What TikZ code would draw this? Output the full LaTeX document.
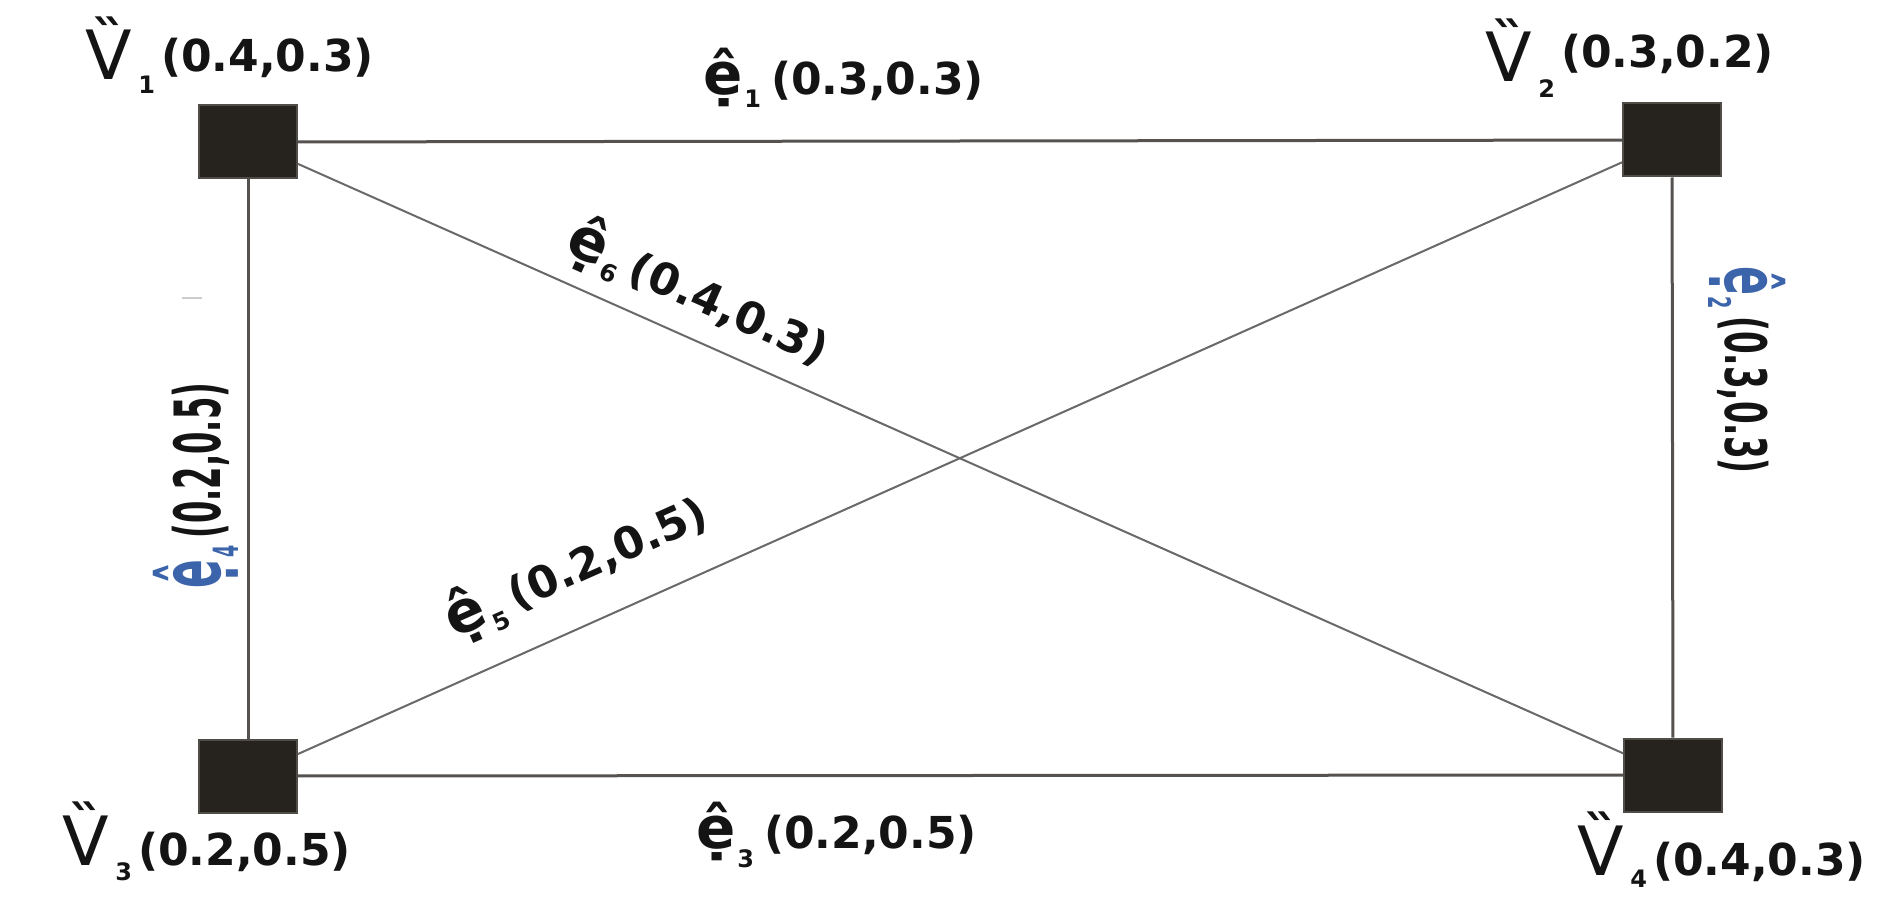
\documentclass[tikz,border=0pt]{standalone}
\usepackage{fontspec}
\setmainfont{DejaVu Sans}
\usepackage{graphicx}
\definecolor{boxfill}{RGB}{38,34,29}
\definecolor{boxline}{RGB}{80,76,72}
\definecolor{edgec}{RGB}{85,82,80}
\definecolor{diagc}{RGB}{105,105,105}
\definecolor{eblue}{RGB}{60,100,170}
\definecolor{txt}{RGB}{20,20,20}
\newcommand{\Vlab}[4]{\raisebox{-#2pt}{\mdseries\fontsize{68}{68}\selectfont V\char"030F}\kern6pt\raisebox{-#3pt}{\fontsize{24}{24}\selectfont #1}\kern6pt#4}
\newcommand{\Elab}[4]{{\color{#1}{\fontsize{58}{58}\selectfont ệ}\kern2pt\raisebox{-#3pt}{\fontsize{24}{24}\selectfont #2}}\kern10pt#4}
\begin{document}
\begin{tikzpicture}[x=1pt,y=-1pt,
  font=\bfseries\fontsize{44}{50}\selectfont,
  vert/.style={rectangle, minimum width=98pt, minimum height=73pt, inner sep=0pt, fill=boxfill, draw=boxline, line width=2pt},
  lab/.style={inner sep=0pt, outer sep=0pt, text=txt},
  edge/.style={draw=edgec, line width=3pt},
  diag/.style={draw=diagc, line width=2pt}]
\useasboundingbox (0,0) rectangle (1886,912);
\fill[white] (0,0) rectangle (1886,912);
\node[vert] (v1) at (248,142) {};
\node[vert] (v2) at (1672,140) {};
\node[vert] (v3) at (248,776) {};
\node[vert] (v4) at (1673,775) {};
\draw[edge] (v1) -- (v2);
\draw[edge] (v3) -- (v4);
\draw[edge] (v1) -- (v3);
\draw[edge] (v2) -- (v4);
\draw[diag] (v1) -- (v4);
\draw[diag] (v3) -- (v2);
\node[lab, anchor=base east] (lv1) at (374,72) {\Vlab{1}{8}{22}{(0.4,0.3)}};
\node[lab, anchor=base east] (lv2) at (1774,68) {\Vlab{2}{14}{30}{(0.3,0.2)}};
\node[lab, anchor=base east] (lv3) at (351,865) {\Vlab{3}{0}{15}{(0.2,0.5)}};
\node[lab, anchor=base east] (lv4) at (1866,875) {\Vlab{4}{0}{12}{(0.4,0.3)}};
\node[lab, anchor=base east] (le1) at (984,95) {\Elab{txt}{1}{13}{(0.3,0.3)}};
\node[lab, anchor=base east] (le3) at (977,848) {\Elab{txt}{3}{19}{(0.2,0.5)}};
\node[lab, anchor=base west, rotate=-90] (le2) at (1725,266) {\scalebox{0.74}[1.3]{\Elab{eblue}{2}{13}{(0.3,0.3)}}};
\node[lab, anchor=base west, rotate=90] (le4) at (220,588) {\scalebox{0.73}[1.45]{\Elab{eblue}{4}{13}{(0.2,0.5)}}};
\node[lab, anchor=base, rotate=-24] (le6) at (692,309) {\Elab{txt}{6}{10}{(0.4,0.3)}};
\node[lab, anchor=base, rotate=24] (le5) at (583,581) {\Elab{txt}{5}{12}{(0.2,0.5)}};
\draw[gray!40, line width=2pt] (182,298) -- (202,298);
\end{tikzpicture}
\end{document}
